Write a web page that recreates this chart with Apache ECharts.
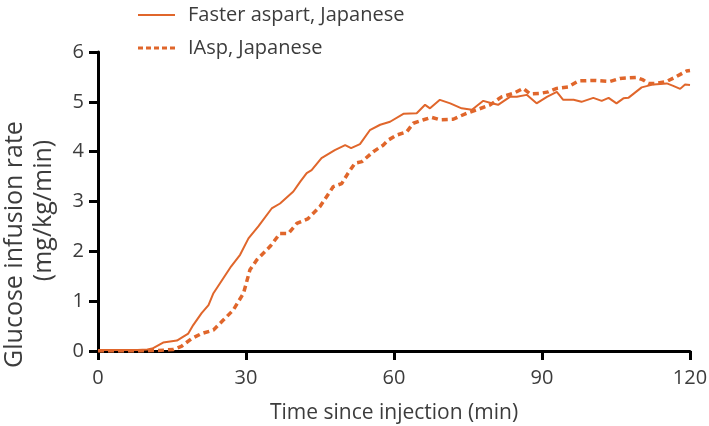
<!DOCTYPE html>
<html><head><meta charset="utf-8">
<script src="https://cdn.jsdelivr.net/npm/echarts@6/dist/echarts.min.js"></script>
<style>html,body{margin:0;padding:0;background:#fff}#c{width:709px;height:426px}</style>
</head><body><div id="c"></div>
<script>
var seriesNames = ['Faster aspart, Japanese', 'IAsp, Japanese'];
var xTicks = [0, 30, 60, 90, 120];
var yTicks = [0, 1, 2, 3, 4, 5, 6];

var fasterTime = [0, 4, 8, 10, 11, 13.2, 16, 17.3, 18.3, 19.3, 21, 22.4, 23.4, 25.4, 27, 28.8, 30.5, 32.5, 35.2, 36.9, 39.6, 41, 42.3, 43.3, 45.3, 48, 50.1, 51.3, 53.1, 55.1, 57.2, 59.2, 61.9, 64.6, 66.3, 67.3, 69.3, 71.4, 73.7, 75.8, 78.1, 79.8, 81.1, 83.5, 84.9, 86.9, 88.9, 91, 93, 94.3, 96.4, 98, 100.4, 102.1, 103.5, 105.1, 106.5, 107.5, 110.2, 112.6, 115.3, 116.6, 118, 119, 120];
var fasterValues = [0.02, 0.02, 0.02, 0.03, 0.05, 0.17, 0.21, 0.29, 0.35, 0.52, 0.76, 0.92, 1.16, 1.46, 1.7, 1.93, 2.26, 2.5, 2.86, 2.96, 3.2, 3.4, 3.57, 3.63, 3.87, 4.03, 4.13, 4.07, 4.15, 4.43, 4.54, 4.6, 4.76, 4.77, 4.94, 4.87, 5.04, 4.97, 4.87, 4.84, 5.02, 4.97, 4.94, 5.1, 5.1, 5.14, 4.97, 5.1, 5.2, 5.04, 5.04, 5.0, 5.08, 5.02, 5.08, 4.97, 5.07, 5.08, 5.29, 5.35, 5.37, 5.32, 5.26, 5.35, 5.34];

var iaspTime = [0, 4, 8, 12.2, 15.3, 17, 19, 21, 23.4, 25.4, 27.4, 29.5, 30.8, 32.2, 34.9, 36.9, 38.6, 40.3, 42.5, 45, 47.7, 49.4, 50.7, 52.1, 53.5, 55.8, 57.8, 58.8, 60.5, 62.6, 63.9, 66, 67.6, 69.3, 72, 74.7, 76.8, 79.5, 81.8, 84.2, 86.2, 87.6, 89.6, 91.3, 93, 95.3, 97.4, 100.4, 103.8, 105.8, 109.2, 110.5, 111.6, 113.2, 115.3, 117.3, 119.3, 120];
var iaspValues = [0.0, 0.0, 0.0, 0.01, 0.03, 0.1, 0.25, 0.35, 0.42, 0.62, 0.82, 1.16, 1.63, 1.83, 2.1, 2.36, 2.36, 2.56, 2.65, 2.9, 3.3, 3.36, 3.57, 3.77, 3.8, 4.0, 4.13, 4.23, 4.33, 4.4, 4.57, 4.64, 4.69, 4.64, 4.65, 4.77, 4.84, 4.94, 5.1, 5.17, 5.27, 5.16, 5.17, 5.2, 5.27, 5.3, 5.42, 5.43, 5.41, 5.47, 5.49, 5.44, 5.37, 5.37, 5.41, 5.51, 5.62, 5.63];

function pairs(xs, ys) { return xs.map(function (x, i) { return [x, ys[i]]; }); }

var color = '#e0662b';
var font = 'Open Sans';
var textColor = '#3c3c3c';
var chart = echarts.init(document.getElementById('c'), null, {renderer: 'canvas'});
chart.setOption({
  animation: false,
  backgroundColor: '#fff',
  grid: {left: 98, right: 19, top: 52, bottom: 75, containLabel: false, outerBoundsMode: 'none'},
  legend: {
    orient: 'vertical', left: 133, top: -1, itemWidth: 37, itemHeight: 3, itemGap: 11,
    textStyle: {fontFamily: font, fontSize: 20, color: textColor, padding: [0, 0, 0, 8], lineHeight: 22},
    data: [
      {name: seriesNames[0], icon: 'path://M0 0h37v2h-37z'},
      {name: seriesNames[1], icon: 'path://M0 0h5v3h-5zM8 0h5v3h-5zM16 0h5v3h-5zM24 0h5v3h-5zM32 0h5v3h-5z'}
    ]
  },
  xAxis: {
    type: 'value', min: 0, max: 120, interval: 30,
    name: 'Time since injection (min)', nameLocation: 'middle', nameGap: 52,
    nameTextStyle: {fontFamily: font, fontSize: 21, color: textColor},
    axisLine: {lineStyle: {color: '#000', width: 3}},
    axisTick: {length: 9, lineStyle: {color: '#000', width: 3}},
    axisLabel: {margin: 17, fontFamily: font, fontSize: 20, color: textColor,
      formatter: function (v) { return xTicks.indexOf(v) >= 0 ? String(v) : ''; }},
    splitLine: {show: false}
  },
  yAxis: {
    type: 'value', min: 0, max: 6, interval: 1,
    name: '{a|Glucose infusion rate}\n{b|(mg/kg/min)}', nameLocation: 'middle', nameGap: 40,
    nameTextStyle: {
      fontFamily: font, fontSize: 25, color: textColor, lineHeight: 29,
      rich: {
        a: {fontFamily: font, fontSize: 25, color: textColor, lineHeight: 29, padding: [0, 86, 0, 0]},
        b: {fontFamily: font, fontSize: 25, color: textColor, lineHeight: 29, padding: [0, 18, 0, 0]}
      }
    },
    axisLine: {show: true, lineStyle: {color: '#000', width: 3}},
    axisTick: {show: true, length: 9, lineStyle: {color: '#000', width: 3}},
    axisLabel: {margin: 14, fontFamily: font, fontSize: 20, color: textColor,
      formatter: function (v) { return yTicks.indexOf(v) >= 0 ? String(v) : ''; }},
    splitLine: {show: false}
  },
  series: [
    {name: seriesNames[0], type: 'line', showSymbol: false, symbol: 'none',
     data: pairs(fasterTime, fasterValues), color: color,
     lineStyle: {color: color, width: 2}},
    {name: seriesNames[1], type: 'line', showSymbol: false, symbol: 'none',
     data: pairs(iaspTime, iaspValues), color: color,
     lineStyle: {color: color, width: 3.5, type: [6, 4]}}
  ]
});
</script></body></html>
